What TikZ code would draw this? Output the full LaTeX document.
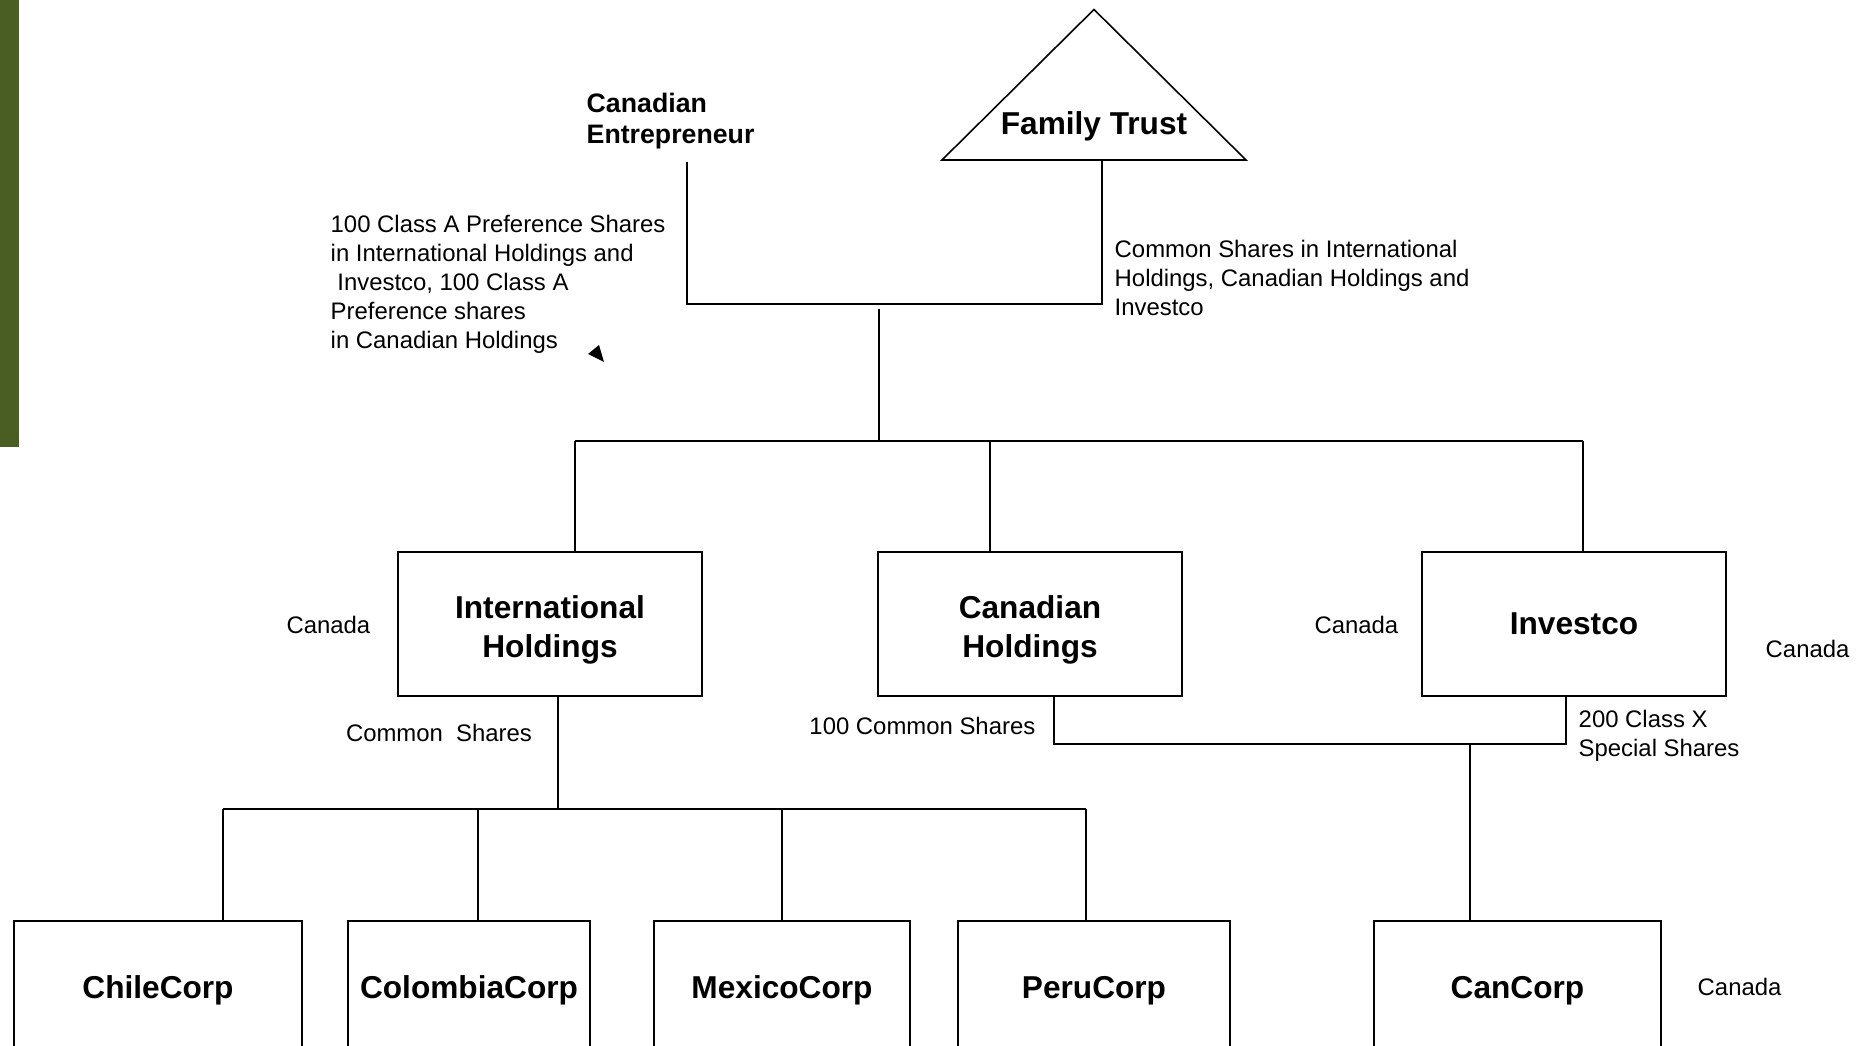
\documentclass[tikz,border=0pt]{standalone}
\usepackage{fontspec}
\setmainfont{Liberation Sans}
\usetikzlibrary{positioning, calc}
\definecolor{barGreen}{RGB}{74,94,35}

\begin{document}
\begin{tikzpicture}[
    company/.style={rectangle, draw=black, line width=0.6pt, minimum width=3.04cm, minimum height=1.44cm, align=center, font=\fontsize{9}{10.9}\selectfont\bfseries},
    subco/.style={company, minimum height=1.30cm, execute at begin node=\rule{0pt}{8.7pt}},
    link/.style={line width=0.6pt},
    lbl/.style={font=\fontsize{6.8}{8.25}\selectfont, align=left, inner sep=0pt},
    owner/.style={font=\fontsize{7.6}{8.8}\selectfont\bfseries, align=left, inner sep=0pt}
]

\clip (0,0) rectangle (18.70,-10.46);

% Side bar
\fill[barGreen] (0,0) rectangle (0.19,-4.47);

% Owners
\coordinate (apex) at (10.94,-0.095);
\coordinate (baseL) at (9.42,-1.60);
\coordinate (baseR) at (12.46,-1.60);
\draw[line width=0.45pt] (apex) -- (baseL) -- (baseR) -- cycle;
\node[font=\fontsize{9}{10.9}\selectfont\bfseries, inner sep=0pt] (trust) at (10.94,-1.262) {Family Trust};
\node[owner, anchor=west] (entre) at (5.86,-1.21) {Canadian\\Entrepreneur};

% Share labels (top)
\node[lbl, anchor=west] (prefLbl) at (3.30,-2.84) {100 Class A Preference Shares\\in International Holdings and\\\hspace*{0.28em}Investco, 100 Class A\\Preference shares\\in Canadian Holdings};
\node[lbl, anchor=west] (commonLbl) at (11.14,-2.775) {Common Shares in International\\Holdings, Canadian Holdings and\\Investco};
\fill (5.99,-3.45) -- (5.88,-3.54) -- (6.04,-3.62) -- cycle;

% Owners to holding companies
\coordinate (entFoot) at (6.87,-1.62);
\coordinate (trustFoot) at (11.02,-1.60);
\coordinate (merge) at (8.79,-3.04);
\draw[link] (entFoot) -- (entFoot |- merge) -- (trustFoot |- merge) -- (trustFoot);

% Holding companies
\node[company] (intl) at (5.50,-6.24) {\rule{0pt}{9.8pt}International\\Holdings};
\node[company] (canhold) at (10.30,-6.24) {\rule{0pt}{9.8pt}Canadian\\Holdings};
\node[company] (investco) at (15.74,-6.24) {Investco};

\coordinate (bus) at (8.79,-4.41);
\coordinate (dropA) at (5.75,-4.41);
\coordinate (dropB) at (9.90,-4.41);
\coordinate (dropC) at (15.83,-4.41);
\draw[link, shorten <=0.05cm] (merge) -- (bus);
\draw[link] (dropA) -- (dropC);
\draw[link] (dropA) -- (dropA |- intl.north);
\draw[link] (dropB) -- (dropB |- canhold.north);
\draw[link] (dropC) -- (dropC |- investco.north);

\node[lbl, left=0.26cm of intl, yshift=-0.01cm] (canadaA) {Canada};
\node[lbl, left=0.22cm of investco, yshift=-0.01cm] (canadaB) {Canada};
\node[lbl, anchor=west] (canadaC) at (17.65,-6.49) {Canada};

% Foreign subsidiaries
\node[subco, minimum width=2.88cm] (chile) at (1.58,-9.86) {ChileCorp};
\node[subco, minimum width=2.40cm] (colombia) at (4.69,-9.86) {ColombiaCorp};
\node[subco, minimum width=2.56cm] (mexico) at (7.82,-9.86) {MexicoCorp};
\node[subco, minimum width=2.72cm] (peru) at (10.94,-9.86) {PeruCorp};

\coordinate (intlBus) at (5.58,-8.09);
\draw[link] (intlBus |- intl.south) -- (intlBus);
\draw[link] (2.23,-8.09) -- (10.86,-8.09);
\foreach \x/\co in {2.23/chile, 4.78/colombia, 7.82/mexico, 10.86/peru}
  \draw[link] (\x,-8.09) -- (\x,0 |- \co.north);
\node[lbl] (commonShares) at (4.39,-7.33) {Common\ \ Shares};

% Canadian subsidiary
\node[subco, minimum width=2.87cm] (cancorp) at (15.175,-9.86) {CanCorp};
\node[lbl, anchor=west] (canadaD) at (16.97,-9.87) {Canada};

\coordinate (holdBus) at (10.54,-7.44);
\coordinate (invBus) at (15.66,-7.44);
\coordinate (canDrop) at (14.70,-7.44);
\draw[link] (holdBus |- canhold.south) -- (holdBus) -- (invBus) -- (invBus |- investco.south);
\draw[link] (canDrop) -- (canDrop |- cancorp.north);
\node[lbl, anchor=east] (hundredLbl) at (10.36,-7.26) {100 Common Shares};
\node[lbl, anchor=west] (classXLbl) at (15.78,-7.36) {200 Class X\\Special Shares};

\end{tikzpicture}
\end{document}
